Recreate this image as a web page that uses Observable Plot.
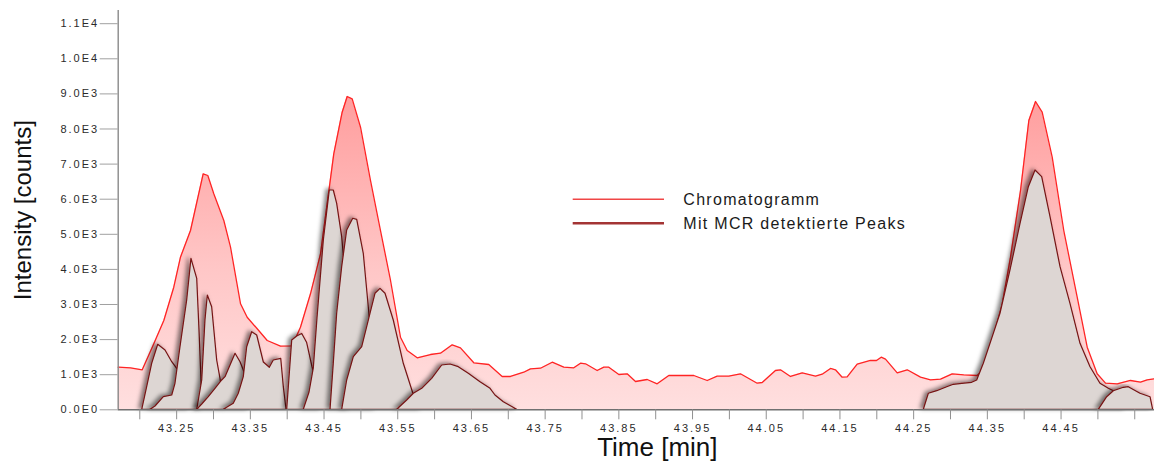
<!DOCTYPE html>
<html>
<head>
<meta charset="utf-8">
<script src="https://cdn.jsdelivr.net/npm/d3@7"></script>
<script src="https://cdn.jsdelivr.net/npm/@observablehq/plot@0.6"></script>
<style>
  html, body { margin: 0; padding: 0; background: #fff; }
  #wrap { position: relative; width: 1154px; height: 461px; }
  g[aria-label="y-axis tick label"] text, g[aria-label="x-axis tick label"] text { letter-spacing: 2px; }
  #legend { position: absolute; left: 0; top: 0; pointer-events: none; }
</style>
</head>
<body>
<div id="wrap"></div>
<script>
// ---------- data ----------
const xDomain = [43.1707, 44.5768];
const yDomain = [0, 11376];

const chromTime = [43.1707, 43.1874, 43.2033, 43.219, 43.2326, 43.2461, 43.2552, 43.2688, 43.286, 43.2923, 43.3004, 43.314, 43.3231, 43.3367, 43.3457, 43.3593, 43.3729, 43.3909, 43.4068, 43.418, 43.4316, 43.4452, 43.4632, 43.4746, 43.4814, 43.4882, 43.4995, 43.513, 43.5266, 43.5402, 43.5537, 43.5628, 43.5764, 43.5944, 43.608, 43.6239, 43.6351, 43.6532, 43.6735, 43.6917, 43.703, 43.721, 43.7301, 43.7437, 43.7596, 43.7753, 43.7889, 43.798, 43.8048, 43.8206, 43.8296, 43.8364, 43.85, 43.8613, 43.8726, 43.8885, 43.902, 43.9178, 43.9427, 43.9517, 43.9699, 43.9834, 43.9992, 44.015, 44.0377, 44.0445, 44.0625, 44.0693, 44.0829, 44.0988, 44.1168, 44.1259, 44.1372, 44.1439, 44.153, 44.1598, 44.1734, 44.1914, 44.1996, 44.206, 44.2118, 44.2277, 44.2413, 44.2593, 44.2729, 44.2865, 44.3023, 44.318, 44.3362, 44.343, 44.3543, 44.3702, 44.3814, 44.395, 44.4063, 44.4154, 44.4244, 44.438, 44.4537, 44.4719, 44.4855, 44.499, 44.5103, 44.5262, 44.5442, 44.5578, 44.5669, 44.5768];
const chromIntensity = [1214, 1197, 1140, 1880, 2544, 3493, 4348, 5108, 6724, 6675, 6154, 5393, 4632, 3020, 2638, 2308, 1974, 1812, 1823, 2353, 3305, 4444, 7293, 8479, 8926, 8860, 8051, 6533, 5108, 3684, 2068, 1689, 1481, 1575, 1613, 1852, 1766, 1339, 1291, 949, 949, 1071, 1168, 1185, 1356, 1214, 1197, 1328, 1311, 1120, 1214, 1214, 1006, 1026, 806, 863, 741, 977, 977, 977, 835, 957, 957, 1026, 758, 778, 1120, 1140, 949, 1054, 957, 1014, 1177, 1140, 929, 940, 1299, 1405, 1405, 1499, 1442, 1054, 1140, 929, 855, 872, 1026, 997, 977, 1120, 1783, 3020, 4348, 6248, 8242, 8783, 8479, 7197, 5108, 3208, 1783, 1026, 758, 741, 835, 786, 855, 883];

// MCR peaks (time, intensity), in drawing order
const peak1Time = [43.2033, 43.210, 43.2168, 43.225, 43.2349, 43.244, 43.2507, 43.2607, 43.2688];
const peak1Int  = [0, 644, 1311, 1852, 1689, 1356, 1168, 550, 0];
const peak2Time = [43.2145, 43.2213, 43.2326, 43.244, 43.2484, 43.2552, 43.2643, 43.2701, 43.2779, 43.281, 43.2837, 43.2851];
const peak2Int  = [0, 94, 359, 407, 741, 1783, 3114, 4302, 3732, 2259, 835, 0];
const peak3Time = [43.2779, 43.2847, 43.2891, 43.2923, 43.2982, 43.305, 43.3095, 43.3149];
const peak3Int  = [0, 835, 2544, 3256, 2923, 1405, 883, 0];
const peak4Time = [43.2779, 43.2847, 43.2936, 43.3027, 43.3118, 43.3163, 43.3231, 43.3299, 43.3367, 43.3411, 43.3461, 43.3488];
const peak4Int  = [0, 151, 359, 598, 835, 929, 1262, 1595, 1356, 1120, 550, 0];
const peak5Time = [43.314, 43.3275, 43.3343, 43.3411, 43.3457, 43.3525, 43.3593, 43.3683, 43.3764, 43.3818, 43.3919, 43.3954, 43.3991];
const peak5Int  = [0, 171, 456, 929, 1783, 2211, 2117, 1348, 1197, 1405, 1453, 644, 0];
const peak6Time = [43.400, 43.4068, 43.4136, 43.4204, 43.4271, 43.4343, 43.4425, 43.4479];
const peak6Int  = [0, 1974, 2088, 2160, 1903, 1214, 550, 0];
const peak7Time = [43.4225, 43.4303, 43.4361, 43.4411, 43.4497, 43.4578, 43.4632, 43.4678, 43.4746, 43.4778, 43.4818, 43.4859];
const peak7Int  = [0, 493, 1177, 2601, 4823, 6248, 6248, 5869, 4917, 4168, 2259, 0];
const peak8Time = [43.4588, 43.4632, 43.4678, 43.4746, 43.4814, 43.4896, 43.495, 43.5039, 43.5107, 43.5171, 43.5212];
const peak8Int  = [0, 1311, 2735, 4063, 5108, 5442, 5413, 4444, 2923, 1405, 0];
const peak9Time = [43.4746, 43.4814, 43.4904, 43.5018, 43.513, 43.5198, 43.5266, 43.5334, 43.5446, 43.5582, 43.571, 43.5782, 43.5836];
const peak9Int  = [0, 835, 1499, 1783, 2735, 3305, 3447, 3305, 2544, 1311, 473, 151, 0];
const peak10Time = [43.5493, 43.5628, 43.5718, 43.5832, 43.5967, 43.6103, 43.6216, 43.6328, 43.6464, 43.6623, 43.6759, 43.6826, 43.6939, 43.712];
const peak10Int  = [0, 265, 456, 598, 883, 1262, 1291, 1214, 1026, 786, 598, 407, 217, 0];
const peak11Time = [44.2638, 44.2706, 44.282, 44.2955, 44.3045, 44.3159, 44.3294, 44.3362, 44.3452, 44.3588, 44.3678, 44.3814, 44.395, 44.4063, 44.4154, 44.4244, 44.4357, 44.4493, 44.4628, 44.4764, 44.49, 44.5035, 44.5148, 44.5216, 44.5307, 44.5388];
const peak11Int  = [0, 456, 530, 644, 712, 741, 769, 835, 1311, 2165, 2735, 3969, 5299, 6342, 6818, 6627, 5487, 4063, 3020, 1880, 1214, 741, 598, 530, 350, 0];
const peak12Time = [44.5012, 44.5126, 44.5216, 44.5352, 44.5419, 44.5578, 44.5714, 44.575];
const peak12Int  = [0, 359, 530, 627, 644, 456, 359, 0];

const yTickValues = [0, 1000, 2000, 3000, 4000, 5000, 6000, 7000, 8000, 9000, 10000, 11000];
const yTickLabels = ["0.0E0", "1.0E3", "2.0E3", "3.0E3", "4.0E3", "5.0E3", "6.0E3", "7.0E3", "8.0E3", "9.0E3", "1.0E4", "1.1E4"];
const xTickValues = [43.20, 43.25, 43.30, 43.35, 43.40, 43.45, 43.50, 43.55, 43.60, 43.65, 43.70, 43.75, 43.80, 43.85, 43.90, 43.95, 44.00, 44.05, 44.10, 44.15, 44.20, 44.25, 44.30, 44.35, 44.40, 44.45, 44.50, 44.55];
const xTickLabels = ["43.25", "43.35", "43.45", "43.55", "43.65", "43.75", "43.85", "43.95", "44.05", "44.15", "44.25", "44.35", "44.45"];

const seriesNames = ["Chromatogramm", "Mit MCR detektierte Peaks"];
const xTitle = "Time [min]";
const yTitle = "Intensity [counts]";

// ---------- build ----------
const chrom = chromTime.map((t, i) => ({t, v: chromIntensity[i]}));
const peakPairs = [
  [peak1Time, peak1Int], [peak2Time, peak2Int], [peak3Time, peak3Int], [peak4Time, peak4Int],
  [peak5Time, peak5Int], [peak6Time, peak6Int], [peak7Time, peak7Int], [peak8Time, peak8Int],
  [peak9Time, peak9Int], [peak10Time, peak10Int], [peak11Time, peak11Int], [peak12Time, peak12Int]
];
const peaks = peakPairs.map(([ts, vs]) => ts.map((t, i) => ({t, v: vs[i]})));

const NS = "http://www.w3.org/2000/svg";
function defsMark() {
  const defs = document.createElementNS(NS, "defs");
  defs.innerHTML = `
    <linearGradient id="redGrad" gradientUnits="userSpaceOnUse" x1="0" y1="90" x2="0" y2="409">
      <stop offset="0" stop-color="#ff9c9c"/>
      <stop offset="0.55" stop-color="#ffc6c6"/>
      <stop offset="1" stop-color="#ffdfdf"/>
    </linearGradient>
    <filter id="peakShadow" x="-30%" y="-10%" width="140%" height="120%">
      <feDropShadow dx="-3" dy="-1" stdDeviation="2.2" flood-color="#000" flood-opacity="0.5"/>
    </filter>`;
  return defs;
}

const peakFill = "#ddd6d3";
const peakStroke = "#751414";

const marks = [
  defsMark,
  Plot.areaY(chrom, {x: "t", y: "v", fill: "url(#redGrad)"}),
  Plot.lineY(chrom, {x: "t", y: "v", stroke: "#ff2424", strokeWidth: 1.3}),
  ...peaks.map(p => Plot.areaY(p, {x: "t", y: "v", fill: peakFill, stroke: peakStroke, strokeWidth: 1.2, strokeLinejoin: "round", ariaDescription: "peak"})),
  Plot.ruleY([0], {stroke: "#707070", strokeWidth: 1.6}),
  Plot.ruleX([xDomain[0]], {stroke: "#8a8a8a", strokeWidth: 1.4}),
  Plot.axisY({ticks: yTickValues, tickSize: 18, tickPadding: 1, stroke: "#a0a0a0", fill: "#2a2a2a", fontSize: 11,
    tickFormat: d => yTickLabels[yTickValues.indexOf(d)], label: null}),
  Plot.axisX({ticks: xTickValues, tickSize: 10, tickPadding: 4, stroke: "#909090", fill: "#2a2a2a", fontSize: 11,
    tickFormat: d => { const s = d.toFixed(2); return xTickLabels.includes(s) ? s : ""; }, label: null}),
  Plot.text([xTitle], {frameAnchor: "bottom", textAnchor: "middle", lineAnchor: "middle", dx: 21, dy: 38, fontSize: 26, fill: "#111"}),
  Plot.text([yTitle], {frameAnchor: "left", textAnchor: "middle", lineAnchor: "middle", dx: -94.4, rotate: -90, fontSize: 24, fill: "#111"})
];

const chart = Plot.plot({
  width: 1154,
  height: 461,
  marginLeft: 117.7,
  marginRight: 0,
  marginTop: 10,
  marginBottom: 51.7,
  x: {domain: xDomain},
  y: {domain: yDomain},
  style: {fontFamily: "'Liberation Sans', Arial, sans-serif", background: "#fff", overflow: "visible"},
  marks
});

d3.select(chart).selectAll('g[aria-description="peak"]').attr("filter", "url(#peakShadow)");

const wrap = document.getElementById("wrap");
wrap.appendChild(chart);

// legend overlay
const leg = d3.select(wrap).append("svg").attr("id", "legend").attr("width", 1154).attr("height", 461);
const legItems = [
  {name: seriesNames[0], stroke: "#f04646", width: 1.5, y: 199.3},
  {name: seriesNames[1], stroke: "#a33434", width: 2.6, y: 223.3}
];
legItems.forEach(it => {
  leg.append("line").attr("x1", 572.7).attr("x2", 664).attr("y1", it.y).attr("y2", it.y)
    .attr("stroke", it.stroke).attr("stroke-width", it.width);
  leg.append("text").attr("x", 683.3).attr("y", it.y).attr("dy", "0.36em")
    .attr("font-family", "'Liberation Sans', Arial, sans-serif").attr("font-size", 16)
    .attr("letter-spacing", "1.3px").attr("fill", "#1a1a1a").text(it.name);
});
</script>
</body>
</html>
